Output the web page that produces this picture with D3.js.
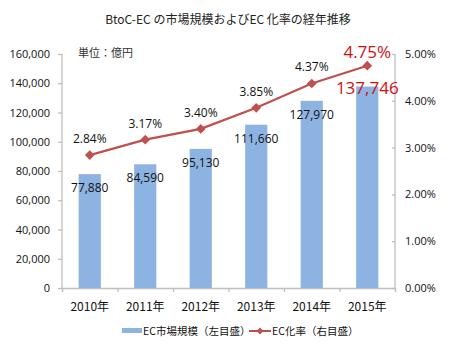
<!DOCTYPE html>
<html><head><meta charset="utf-8">
<script src="https://cdn.jsdelivr.net/npm/d3@7"></script>
<style>body{margin:0;background:#fff}svg{display:block;font-family:"Noto Sans CJK JP","Open Sans",sans-serif}</style>
</head><body>
<svg id="c" width="450" height="349"></svg>
<script>
const categories = ["2010年","2011年","2012年","2013年","2014年","2015年"];
const marketSize = [77880, 84590, 95130, 111660, 127970, 137746];
const ecRate = [2.84, 3.17, 3.40, 3.85, 4.37, 4.75];
const leftTicks = [0,20000,40000,60000,80000,100000,120000,140000,160000];
const rightTicks = [0,1,2,3,4,5];

const svg = d3.select("#c");
const L = 62, R = 395, T = 54, B = 288;
const x = d3.scaleBand().domain(categories).range([L, R]).paddingInner(0.6).paddingOuter(0.3);
const xc = d => x(d) + x.bandwidth()/2;
const yL = d3.scaleLinear().domain([0,160000]).range([B,T]);
const yR = d3.scaleLinear().domain([0,5]).range([B,T]);
const axisColor = "#bfbfbf";
const fmt = d3.format(",");

svg.append("text").attr("x",228).attr("y",24).attr("text-anchor","middle")
  .attr("font-size",12).attr("fill","#222").text("BtoC-EC の市場規模およびEC 化率の経年推移");

// left axis
const gl = svg.append("g").attr("transform",`translate(${L},0)`)
  .call(d3.axisLeft(yL).tickValues(leftTicks).tickFormat(fmt).tickSize(4).tickPadding(8));
// right axis
const gr = svg.append("g").attr("transform",`translate(${R},0)`)
  .call(d3.axisRight(yR).tickValues(rightTicks).tickFormat(d=>d.toFixed(2)+"%").tickSize(4).tickPadding(6));
// bottom axis
const xb = d3.scaleLinear().domain([0,6]).range([L,R]);
const gb = svg.append("g").attr("transform",`translate(0,${B})`)
  .call(d3.axisBottom(xb).ticks(6).tickValues([0,1,2,3,4,5,6]).tickFormat("").tickSize(4));
[gl,gr,gb].forEach(g=>{
  g.selectAll("path,line").attr("stroke",axisColor).attr("stroke-width",1.3);
  g.selectAll("text").attr("font-size",11).attr("fill","#111").attr("font-family","'Open Sans',sans-serif");
});
gr.select(".domain").attr("d",`M0,${T}V${B}`);
gl.select(".domain").attr("d",`M0,${T}V${B}`);
gr.selectAll(".tick line").attr("x2",-3);
// category labels
svg.append("g").selectAll("text").data(categories).join("text")
  .attr("x",d=>xc(d)).attr("y",311).attr("text-anchor","middle")
  .attr("font-size",12).attr("fill","#111").text(d=>d);

svg.append("text").attr("x",78).attr("y",57).attr("font-size",11).attr("fill","#333").text("単位：億円");

// bars
svg.append("g").selectAll("rect").data(marketSize).join("rect")
  .attr("x",(d,i)=>x(categories[i])).attr("y",d=>yL(d))
  .attr("width",x.bandwidth()).attr("height",d=>B-yL(d))
  .attr("fill","#8db3e2");

// bar labels
svg.append("g").selectAll("text").data(marketSize).join("text")
  .attr("x",(d,i)=>xc(categories[i]))
  .attr("y",(d,i)=> i===5 ? yL(d)+7 : yL(d)+18)
  .attr("text-anchor","middle")
  .attr("font-family","'Open Sans',sans-serif")
  .attr("font-size",(d,i)=>i===5?17:12)
  .attr("fill",(d,i)=>i===5?"#cc1111":"#111")
  .text(d=>fmt(d));

// line
const line = d3.line().x((d,i)=>xc(categories[i])).y(d=>yR(d));
svg.append("path").datum(ecRate).attr("d",line).attr("fill","none")
  .attr("stroke","#c0504d").attr("stroke-width",2.2);
const diamond = d3.symbol().type(d3.symbolDiamond2).size(60);
svg.append("g").selectAll("path").data(ecRate).join("path")
  .attr("d",diamond).attr("transform",(d,i)=>`translate(${xc(categories[i])},${yR(d)})`)
  .attr("fill","#c0504d");
svg.append("g").selectAll("text").data(ecRate).join("text")
  .attr("x",(d,i)=>xc(categories[i]))
  .attr("y",(d,i)=> i===5 ? yR(d)-8 : yR(d)-12)
  .attr("text-anchor","middle")
  .attr("font-family","'Open Sans',sans-serif")
  .attr("font-size",(d,i)=>i===5?17:12)
  .attr("fill",(d,i)=>i===5?"#cc1111":"#111")
  .text(d=>d.toFixed(2)+"%");

// legend
const lg = svg.append("g");
lg.append("rect").attr("x",122).attr("y",328).attr("width",20).attr("height",5).attr("fill","#8db3e2");
lg.append("text").attr("x",143).attr("y",335).attr("font-size",10.5).attr("fill","#111").text("EC市場規模（左目盛）");
lg.append("line").attr("x1",249).attr("x2",271).attr("y1",331).attr("y2",331).attr("stroke","#c0504d").attr("stroke-width",2);
lg.append("path").attr("d",d3.symbol().type(d3.symbolDiamond2).size(30)).attr("transform","translate(260,331)").attr("fill","#c0504d");
lg.append("text").attr("x",272).attr("y",335).attr("font-size",10.5).attr("fill","#111").text("EC化率（右目盛）");
</script>
</body></html>
